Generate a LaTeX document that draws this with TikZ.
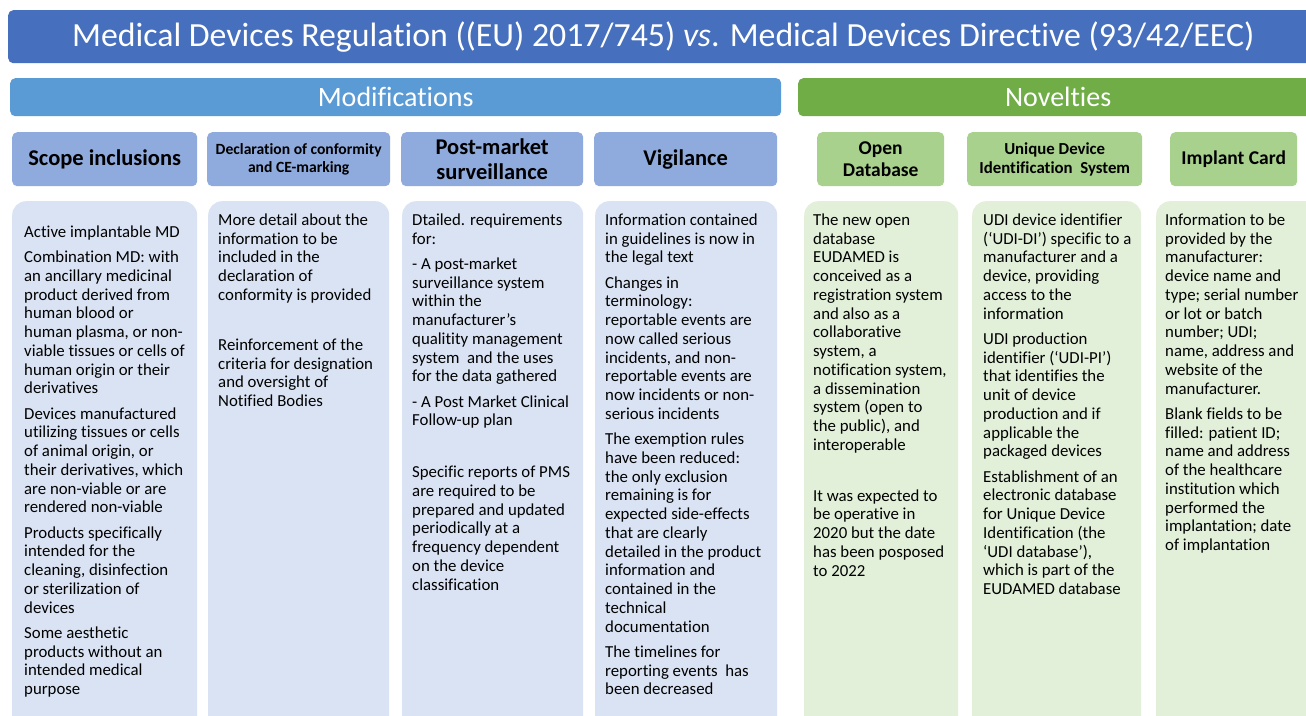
\documentclass[tikz,border=0pt]{standalone}
\usepackage{fontspec}
\setmainfont{Carlito}[Ligatures=NoCommon]
\definecolor{titleblue}{RGB}{70,112,190}
\definecolor{modblue}{RGB}{91,155,213}
\definecolor{novgreen}{RGB}{112,173,71}
\definecolor{hdrblueC}{RGB}{143,170,220}
\definecolor{hdrgreenC}{RGB}{169,209,142}
\definecolor{bodyblueC}{RGB}{218,227,243}
\definecolor{bodygreenC}{RGB}{226,240,217}
\tikzset{
  bar/.style={anchor=north west, inner sep=0, rounded corners=5bp, text=white},
  hdr/.style={anchor=north west, inner sep=0, rounded corners=5bp, minimum height=54bp, align=center},
  hdrblue/.style={hdr, fill=hdrblueC},
  hdrgreen/.style={hdr, fill=hdrgreenC},
  bodybox/.style={anchor=north west, inner sep=0, rounded corners=14bp, minimum height=540bp},
  bodyblue/.style={bodybox, fill=bodyblueC},
  bodygreen/.style={bodybox, fill=bodygreenC},
  bodytext/.style={anchor=north west, inner sep=0, align=left, font=\fontsize{16.8bp}{18.75bp}\selectfont, execute at begin node=\strut},
}
\begin{document}
\begin{tikzpicture}[x=1bp,y=-1bp]
\useasboundingbox (0,0) rectangle (1306,715);
\clip (0,0) rectangle (1306,715);
\fill[white] (0,0) rectangle (1306,715);
% title and section bars
\node[bar, fill=titleblue, minimum width=1310bp, minimum height=53bp, font=\fontsize{33.8bp}{40bp}\selectfont] (title) at (8,10)
  {Medical Devices Regulation ((EU) 2017/745) \textit{vs}. Medical Devices Directive (93/42/EEC)};
\node[bar, fill=modblue, minimum width=771bp, minimum height=38bp, font=\fontsize{28bp}{32bp}\selectfont] (mod) at (10,78) {Modifications};
\node[bar, fill=novgreen, minimum width=520bp, minimum height=38bp, font=\fontsize{28bp}{32bp}\selectfont] (nov) at (798,78) {Novelties};
% headers
\node[hdrblue, minimum width=185bp, font=\fontsize{22.5bp}{25bp}\selectfont\bfseries] (h1) at (12,132) {Scope inclusions};
\node[hdrblue, minimum width=183bp, font=\fontsize{15.6bp}{18bp}\selectfont\bfseries] (h2) at (207,132) {Declaration of conformity\\and CE-marking};
\node[hdrblue, minimum width=182bp, font=\fontsize{22.5bp}{25bp}\selectfont\bfseries] (h3) at (401,132) {Post-market\\surveillance};
\node[hdrblue, minimum width=183bp, font=\fontsize{22.5bp}{25bp}\selectfont\bfseries] (h4) at (594,132) {Vigilance};
\node[hdrgreen, minimum width=127bp, font=\fontsize{19.5bp}{22bp}\selectfont\bfseries] (h5) at (817,132) {Open\\Database};
\node[hdrgreen, minimum width=175bp, font=\fontsize{16.8bp}{18.5bp}\selectfont\bfseries] (h6) at (967,132) {Unique Device\\Identification\ \ System};
\node[hdrgreen, minimum width=127bp, font=\fontsize{19.5bp}{22bp}\selectfont\bfseries] (h7) at (1170,132) {Implant Card};
% body boxes
\node[bodyblue, minimum width=185bp] (b1) at (12,201) {};
\node[bodyblue, minimum width=181bp] (b2) at (208,201) {};
\node[bodyblue, minimum width=181bp] (b3) at (402,201) {};
\node[bodyblue, minimum width=182bp] (b4) at (595,201) {};
\node[bodygreen, minimum width=154bp] (b5) at (804,201) {};
\node[bodygreen, minimum width=169bp] (b6) at (972,201) {};
\node[bodygreen, minimum width=170bp] (b7) at (1156,201) {};
% body texts
\node[bodytext] (t1) at (24,225.5) {Active implantable MD\\[6.5bp]
Combination MD: with\\an ancillary medicinal\\product derived from\\human blood or\\human plasma, or non-\\viable tissues or cells of\\human origin or their\\derivatives\\[6.5bp]
Devices manufactured\\utilizing tissues or cells\\of animal origin, or\\their derivatives, which\\are non-viable or are\\rendered non-viable\\[6.5bp]
Products specifically\\intended for the\\cleaning, disinfection\\or sterilization of\\devices\\[6.5bp]
Some aesthetic\\products without an\\intended medical\\purpose};
\node[bodytext] (t2) at (218,213.5) {More detail about the\\information to be\\included in the\\declaration of\\conformity is provided\\[31.25bp]
Reinforcement of the\\criteria for designation\\and oversight of\\Notified Bodies};
\node[bodytext] (t3) at (412,213.5) {Dtailed. requirements\\for:\\[6.5bp]
- A post-market\\surveillance system\\within the\\manufacturer’s\\qualitity management\\system\ \ and the uses\\for the data gathered\\[6.5bp]
- A Post Market Clinical\\Follow-up plan\\[33bp]
Specific reports of PMS\\are required to be\\prepared and updated\\periodically at a\\frequency dependent\\on the device\\classification};
\node[bodytext] (t4) at (605,213.5) {Information contained\\in guidelines is now in\\the legal text\\[6.5bp]
Changes in\\terminology:\\reportable events are\\now called serious\\incidents, and non-\\reportable events are\\now incidents or non-\\serious incidents\\[6.5bp]
The exemption rules\\have been reduced:\\the only exclusion\\remaining is for\\expected side-effects\\that are clearly\\detailed in the product\\information and\\contained in the\\technical\\documentation\\[6.5bp]
The timelines for\\reporting events\ \ has\\been decreased};
\node[bodytext] (t5) at (813,213.5) {The new open\\database\\EUDAMED is\\conceived as a\\registration system\\and also as a\\collaborative\\system, a\\notification system,\\a dissemination\\system (open to\\the public), and\\interoperable\\[32bp]
It was expected to\\be operative in\\2020 but the date\\has been posposed\\to 2022};
\node[bodytext] (t6) at (983,213.5) {UDI device identifier\\(‘UDI-DI’) specific to a\\manufacturer and a\\device, providing\\access to the\\information\\[6.5bp]
UDI production\\identifier (‘UDI-PI’)\\that identifies the\\unit of device\\production and if\\applicable the\\packaged devices\\[6.5bp]
Establishment of an\\electronic database\\for Unique Device\\Identification (the\\‘UDI database’),\\which is part of the\\EUDAMED database};
\node[bodytext] (t7) at (1165,213.5) {Information to be\\provided by the\\manufacturer:\\device name and\\type; serial number\\or lot or batch\\number; UDI;\\name, address and\\website of the\\manufacturer.\\[6.5bp]
Blank fields to be\\filled: patient ID;\\name and address\\of the healthcare\\institution which\\performed the\\implantation; date\\of implantation};
\end{tikzpicture}
\end{document}
